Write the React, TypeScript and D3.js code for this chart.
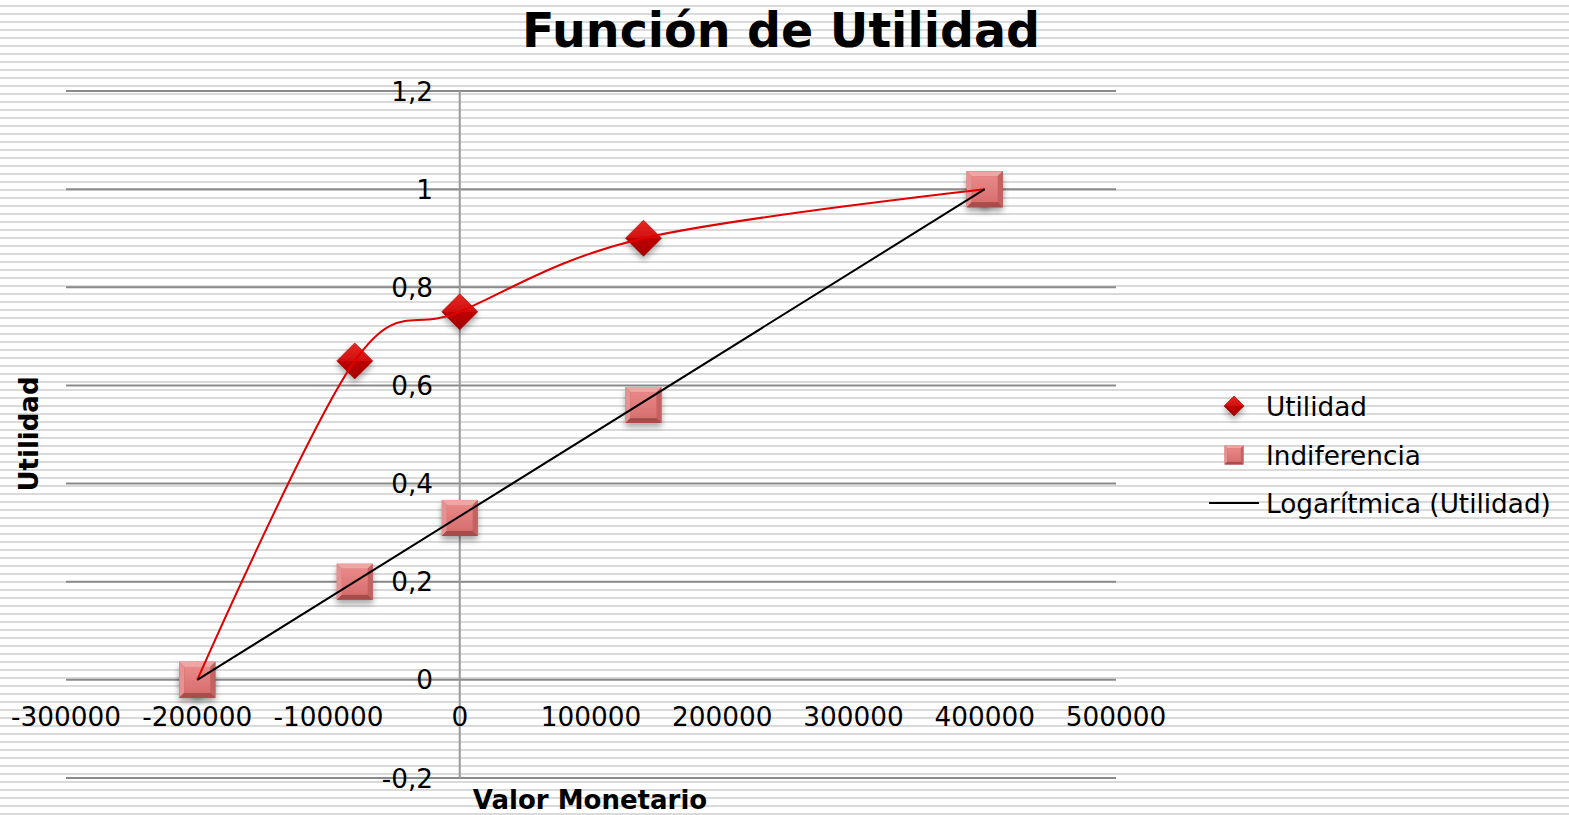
import React, { useEffect, useRef } from 'react';
import * as d3 from 'd3';

const valorMonetario = [-200000, -80000, 0, 140000, 400000];
const utilidad = [0, 0.65, 0.75, 0.9, 1];
const indiferencia = [0, 0.2, 0.33, 0.56, 1];

// trendline endpoints as drawn in the picture
const tendenciaX = [-200000, 400000];
const tendenciaY = [0, 1];

const xTicks = [-300000, -200000, -100000, 0, 100000, 200000, 300000, 400000, 500000];
const yTicks = [-0.2, 0, 0.2, 0.4, 0.6, 0.8, 1, 1.2];
const yTickLabels = ['-0,2', '0', '0,2', '0,4', '0,6', '0,8', '1', '1,2'];

const legendLabels = ['Utilidad', 'Indiferencia', 'Logarítmica (Utilidad)'];

const width = 1569;
const height = 815;
const font = '"DejaVu Sans", Verdana, sans-serif';
const labelSize = 26.3;

const drawSquare = (g, s) => {
  const h = s / 2;
  const b = s * 0.14;
  g.append('rect').attr('x', -h).attr('y', -h).attr('width', s).attr('height', s).attr('fill', '#c25f5f');
  g.append('path')
    .attr('d', `M${-h},${-h}L${h},${-h}L${h - b},${-h + b}L${-h + b},${-h + b}Z`)
    .attr('fill', '#f0a5a5');
  g.append('path')
    .attr('d', `M${-h},${-h}L${-h + b},${-h + b}L${-h + b},${h - b}L${-h},${h}Z`)
    .attr('fill', '#e69292');
  g.append('path')
    .attr('d', `M${h},${-h}L${h},${h}L${h - b},${h - b}L${h - b},${-h + b}Z`)
    .attr('fill', '#c46262');
  g.append('path')
    .attr('d', `M${-h},${h}L${h},${h}L${h - b},${h - b}L${-h + b},${h - b}Z`)
    .attr('fill', '#a84c4c');
  g.append('rect')
    .attr('x', -h + b).attr('y', -h + b)
    .attr('width', s - 2 * b).attr('height', s - 2 * b)
    .attr('fill', 'url(#sqGrad)');
};

const drawDiamond = (g, s) => {
  const h = s / 2;
  g.append('path')
    .attr('d', `M0,${-h}L${h},0L0,${h}L${-h},0Z`)
    .attr('fill', 'url(#diaGrad)')
    .attr('stroke', '#9a0000')
    .attr('stroke-width', 0.6);
};

const App = () => {
  const ref = useRef(null);

  useEffect(() => {
    const svg = d3.select(ref.current);
    svg.selectAll('*').remove();

    const x = d3.scaleLinear().domain([-300000, 500000]).range([66, 1116]);
    const y = d3.scaleLinear().domain([-0.2, 1.2]).range([778, 91]);

    const defs = svg.append('defs');
    const pat = defs.append('pattern')
      .attr('id', 'stripes')
      .attr('patternUnits', 'userSpaceOnUse')
      .attr('width', 8)
      .attr('height', 8);
    pat.append('rect').attr('width', 8).attr('height', 8).attr('fill', '#fff');
    pat.append('rect').attr('y', 5).attr('width', 8).attr('height', 2).attr('fill', '#dadada');

    const dg = defs.append('linearGradient').attr('id', 'diaGrad').attr('x1', 0).attr('y1', 0).attr('x2', 0).attr('y2', 1);
    dg.append('stop').attr('offset', '0%').attr('stop-color', '#e62a22');
    dg.append('stop').attr('offset', '50%').attr('stop-color', '#d20e0e');
    dg.append('stop').attr('offset', '50%').attr('stop-color', '#c00202');
    dg.append('stop').attr('offset', '100%').attr('stop-color', '#a00000');

    const sg = defs.append('linearGradient').attr('id', 'sqGrad').attr('x1', 0).attr('y1', 0).attr('x2', 0).attr('y2', 1);
    sg.append('stop').attr('offset', '0%').attr('stop-color', '#e98888');
    sg.append('stop').attr('offset', '100%').attr('stop-color', '#d86f6f');

    const sh = defs.append('filter').attr('id', 'shadow').attr('x', '-50%').attr('y', '-50%').attr('width', '200%').attr('height', '200%');
    sh.append('feDropShadow')
      .attr('dx', 0).attr('dy', 4).attr('stdDeviation', 3)
      .attr('flood-color', '#000').attr('flood-opacity', 0.35);

    svg.append('rect').attr('width', width).attr('height', height).attr('fill', 'url(#stripes)');

    // horizontal gridlines
    svg.append('g')
      .selectAll('line')
      .data(yTicks)
      .enter()
      .append('line')
      .attr('x1', x(-300000))
      .attr('x2', x(500000))
      .attr('y1', d => y(d))
      .attr('y2', d => y(d))
      .attr('stroke', '#8a8a8a')
      .attr('stroke-width', 2);

    // vertical axis
    svg.append('line')
      .attr('x1', x(0)).attr('x2', x(0))
      .attr('y1', y(1.2)).attr('y2', y(-0.2))
      .attr('stroke', '#999')
      .attr('stroke-width', 2);

    // y tick labels
    svg.append('g')
      .selectAll('text')
      .data(yTicks)
      .enter()
      .append('text')
      .text((d, i) => yTickLabels[i])
      .attr('x', 433)
      .attr('y', d => y(d) + 9.5)
      .attr('text-anchor', 'end')
      .attr('font-family', font)
      .attr('font-size', labelSize)
      .attr('fill', '#000');

    // x tick labels
    svg.append('g')
      .selectAll('text')
      .data(xTicks)
      .enter()
      .append('text')
      .text(d => String(d))
      .attr('x', d => x(d))
      .attr('y', y(0) + 46)
      .attr('text-anchor', 'middle')
      .attr('font-family', font)
      .attr('font-size', labelSize)
      .attr('fill', '#000');

    // Indiferencia squares
    svg.append('g')
      .selectAll('g')
      .data(valorMonetario)
      .enter()
      .append('g')
      .attr('transform', (d, i) => `translate(${x(d)},${y(indiferencia[i])})`)
      .attr('filter', 'url(#shadow)')
      .each(function () { drawSquare(d3.select(this), 36); });

    // Utilidad diamonds (first and last are hidden under the squares)
    svg.append('g')
      .selectAll('g')
      .data(valorMonetario)
      .enter()
      .append('g')
      .attr('transform', (d, i) => `translate(${x(d)},${y(utilidad[i])})`)
      .attr('filter', 'url(#shadow)')
      .each(function () { drawDiamond(d3.select(this), 36); });

    // re-draw squares that sit on top of diamonds
    svg.append('g')
      .selectAll('g')
      .data(valorMonetario.filter((d, i) => indiferencia[i] === utilidad[i]))
      .enter()
      .append('g')
      .attr('transform', d => `translate(${x(d)},${y(indiferencia[valorMonetario.indexOf(d)])})`)
      .each(function () { drawSquare(d3.select(this), 36); });

    // smoothed Utilidad line
    const line = d3.line()
      .x(d => x(d[0]))
      .y(d => y(d[1]))
      .curve(d3.curveCardinal);
    svg.append('path')
      .datum(valorMonetario.map((d, i) => [d, utilidad[i]]))
      .attr('d', line)
      .attr('fill', 'none')
      .attr('stroke', '#e00000')
      .attr('stroke-width', 2);

    // trendline
    svg.append('path')
      .datum(tendenciaX.map((d, i) => [d, tendenciaY[i]]))
      .attr('d', d3.line().x(d => x(d[0])).y(d => y(d[1])))
      .attr('fill', 'none')
      .attr('stroke', '#000')
      .attr('stroke-width', 2);

    // title and axis titles
    svg.append('text')
      .text('Función de Utilidad')
      .attr('x', 781)
      .attr('y', 47)
      .attr('text-anchor', 'middle')
      .attr('font-family', font)
      .attr('font-weight', 'bold')
      .attr('font-size', 47.5);

    svg.append('text')
      .text('Valor Monetario')
      .attr('x', 590)
      .attr('y', 809)
      .attr('text-anchor', 'middle')
      .attr('font-family', font)
      .attr('font-weight', 'bold')
      .attr('font-size', 26);

    svg.append('text')
      .text('Utilidad')
      .attr('transform', 'translate(38,434) rotate(-90)')
      .attr('text-anchor', 'middle')
      .attr('font-family', font)
      .attr('font-weight', 'bold')
      .attr('font-size', 26);

    // legend
    const legend = svg.append('g');
    const rowY = [406, 455, 503];
    drawDiamond(legend.append('g').attr('transform', `translate(1234,${rowY[0]})`).attr('filter', 'url(#shadow)'), 20);
    drawSquare(legend.append('g').attr('transform', `translate(1234,${rowY[1]})`), 19);
    legend.append('line')
      .attr('x1', 1209).attr('x2', 1259)
      .attr('y1', rowY[2]).attr('y2', rowY[2])
      .attr('stroke', '#000')
      .attr('stroke-width', 2);
    legend.selectAll('text')
      .data(legendLabels)
      .enter()
      .append('text')
      .text(d => d)
      .attr('x', 1266)
      .attr('y', (d, i) => rowY[i] + 9.5)
      .attr('font-family', font)
      .attr('font-size', labelSize)
      .attr('fill', '#000');
  }, []);

  return (
    <svg
      ref={ref}
      width={width}
      height={height}
      style={{ position: 'absolute', left: 0, top: 0, display: 'block' }}
    />
  );
};

export default App;
